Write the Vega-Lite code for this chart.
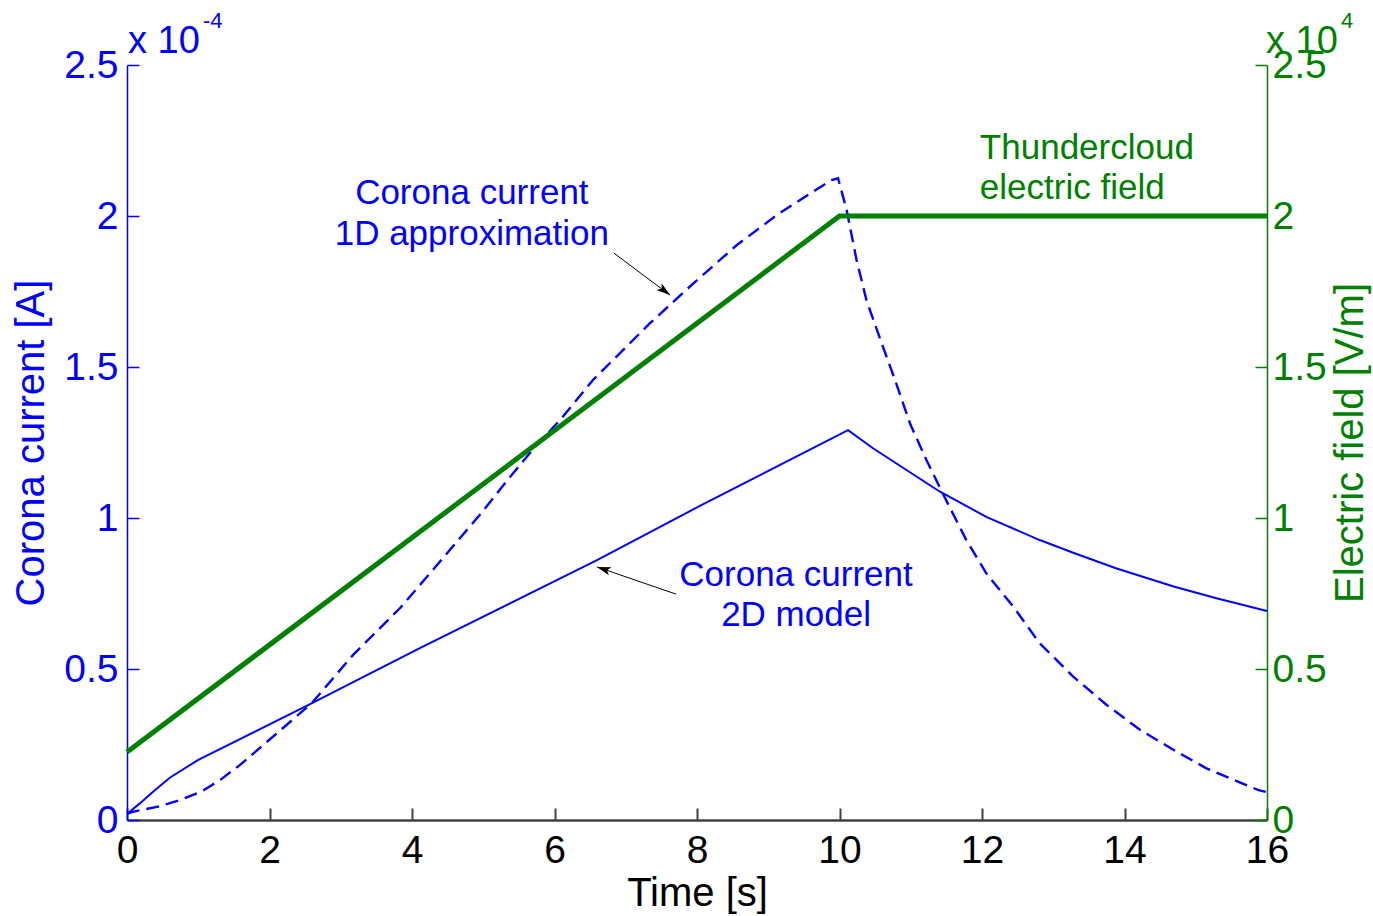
{
  "$schema": "https://vega.github.io/schema/vega-lite/v6.json",
  "width": 1140,
  "height": 755,
  "autosize": {"type": "none"},
  "padding": {"left": 127, "top": 65, "right": 106, "bottom": 96},
  "background": "white",
  "config": {
    "font": "Liberation Sans",
    "view": {"stroke": null},
    "axis": {"grid": false, "labelFlush": false, "labelOverlap": false, "titleFontWeight": "normal"}
  },
  "datasets": {
    "current2d": [
      {"t": 0, "I": 2.0e-6}, {"t": 0.18, "I": 5.5e-6}, {"t": 0.37, "I": 9.4e-6},
      {"t": 0.6, "I": 1.4e-5}, {"t": 1.0, "I": 1.99e-5}, {"t": 2.59, "I": 3.86e-5},
      {"t": 4.11, "I": 5.69e-5}, {"t": 6.59, "I": 8.6e-5}, {"t": 8.04, "I": 1.04e-4},
      {"t": 10.12, "I": 1.291e-4}, {"t": 10.47, "I": 1.231e-4}, {"t": 10.94, "I": 1.159e-4},
      {"t": 11.41, "I": 1.087e-4}, {"t": 12.06, "I": 1.004e-4}, {"t": 12.81, "I": 9.27e-5},
      {"t": 13.28, "I": 8.85e-5}, {"t": 13.89, "I": 8.33e-5}, {"t": 14.69, "I": 7.73e-5},
      {"t": 15.29, "I": 7.34e-5}, {"t": 16.0, "I": 6.92e-5}
    ],
    "current1d": [
      {"t": 0, "I": 2.0e-6}, {"t": 0.08, "I": 2.7e-6}, {"t": 0.45, "I": 4.5e-6},
      {"t": 0.74, "I": 6.6e-6}, {"t": 1.05, "I": 9.5e-6}, {"t": 1.31, "I": 1.33e-5},
      {"t": 1.6, "I": 1.85e-5}, {"t": 1.91, "I": 2.48e-5},
      {"t": 2.59, "I": 3.86e-5}, {"t": 3.17, "I": 5.46e-5}, {"t": 3.83, "I": 7.01e-5},
      {"t": 4.39, "I": 8.55e-5}, {"t": 4.95, "I": 1.01e-4}, {"t": 5.38, "I": 1.137e-4},
      {"t": 5.75, "I": 1.242e-4}, {"t": 6.08, "I": 1.325e-4}, {"t": 6.54, "I": 1.457e-4},
      {"t": 7.34, "I": 1.645e-4}, {"t": 7.95, "I": 1.777e-4}, {"t": 8.56, "I": 1.904e-4},
      {"t": 9.12, "I": 2.003e-4}, {"t": 9.59, "I": 2.075e-4}, {"t": 9.89, "I": 2.119e-4},
      {"t": 9.98, "I": 2.125e-4}, {"t": 10.1, "I": 2.02e-4}, {"t": 10.24, "I": 1.854e-4},
      {"t": 10.38, "I": 1.72e-4}, {"t": 10.62, "I": 1.56e-4}, {"t": 10.76, "I": 1.47e-4},
      {"t": 10.99, "I": 1.313e-4}, {"t": 11.22, "I": 1.192e-4}, {"t": 11.46, "I": 1.076e-4},
      {"t": 11.78, "I": 9.27e-5}, {"t": 12.06, "I": 8.17e-5}, {"t": 12.44, "I": 7.06e-5},
      {"t": 12.81, "I": 5.85e-5}, {"t": 13.28, "I": 4.75e-5}, {"t": 13.75, "I": 3.81e-5},
      {"t": 14.22, "I": 2.98e-5}, {"t": 14.69, "I": 2.32e-5}, {"t": 15.15, "I": 1.71e-5},
      {"t": 15.88, "I": 9.9e-6}, {"t": 16.0, "I": 9.2e-6}
    ],
    "field": [
      {"t": 0, "E": 2250}, {"t": 10, "E": 20000}, {"t": 16, "E": 20000}
    ],
    "currentNotes": [
      {"t": 4.84, "I": 2.076e-4, "label": "Corona current"},
      {"t": 4.84, "I": 1.94e-4, "label": "1D approximation"},
      {"t": 9.39, "I": 8.12e-5, "label": "Corona current"},
      {"t": 9.39, "I": 6.8e-5, "label": "2D model"}
    ],
    "fieldNotes": [
      {"t": 11.97, "E": 22250, "label": "Thundercloud"},
      {"t": 11.97, "E": 20920, "label": "electric field"}
    ],
    "arrows": [
      {"id": "1D", "t": 6.835, "I": 1.877e-4, "t2": 7.621, "I2": 1.738e-4},
      {"id": "2D", "t": 7.705, "I": 7.48e-5, "t2": 6.596, "I2": 8.38e-5}
    ],
    "leftExponent": [{"t": 0, "I": 2.5e-4, "base": "x 10", "power": "-4"}],
    "rightExponent": [{"t": 16, "E": 25000, "base": "x 10", "power": "4"}]
  },
  "layer": [
    {
      "layer": [
        {
          "data": {"name": "current2d"},
          "mark": {"type": "line", "color": "#0000ff", "strokeWidth": 2, "clip": false},
          "encoding": {
            "x": {
              "field": "t", "type": "quantitative",
              "scale": {"domain": [0, 16], "nice": false, "zero": false},
              "axis": {
                "orient": "bottom", "values": [0, 2, 4, 6, 8, 10, 12, 14, 16],
                "labelExpr": "format(datum.value, 'd')",
                "title": "Time [s]", "titleFontSize": 40, "titleColor": "#000000", "titlePadding": 3,
                "labelFontSize": 39, "labelColor": "#000000", "labelPadding": 23,
                "domainColor": "#404040", "domainWidth": 2.5, "tickColor": "#404040", "tickWidth": 2, "tickSize": -12
              }
            },
            "y": {
              "field": "I", "type": "quantitative",
              "scale": {"domain": [0, 0.00025], "nice": false, "zero": false},
              "axis": {
                "orient": "left", "values": [0, 0.00005, 0.0001, 0.00015, 0.0002, 0.00025],
                "labelExpr": "format(datum.value * 10000, '.1~f')",
                "title": "Corona current [A]", "titleFontSize": 40, "titleColor": "#0000ff", "titlePadding": 12,
                "titleAngle": 270, "titleBaseline": "bottom",
                "labelFontSize": 39, "labelColor": "#0000ff", "labelPadding": 21,
                "domainColor": "#0000ff", "domainWidth": 1.5, "tickColor": "#0000ff", "tickWidth": 1.5, "tickSize": -12
              }
            }
          }
        },
        {
          "data": {"name": "current1d"},
          "mark": {"type": "line", "color": "#0000ff", "strokeWidth": 2.4, "strokeDash": [13, 7], "clip": false},
          "encoding": {
            "x": {"field": "t", "type": "quantitative"},
            "y": {"field": "I", "type": "quantitative"}
          }
        },
        {
          "data": {"name": "arrows"},
          "mark": {"type": "rule", "color": "#000000", "strokeWidth": 1},
          "encoding": {
            "x": {"field": "t", "type": "quantitative"},
            "y": {"field": "I", "type": "quantitative"},
            "x2": {"field": "t2"},
            "y2": {"field": "I2"}
          }
        },
        {
          "data": {"name": "arrows"},
          "transform": [{"filter": "datum.id === '1D'"}],
          "mark": {"type": "point", "shape": "M0,0 L0.55,1.8 L0,1.35 L-0.55,1.8 Z", "filled": true, "color": "#000000", "opacity": 1, "size": 240, "angle": 128},
          "encoding": {
            "x": {"field": "t2", "type": "quantitative"},
            "y": {"field": "I2", "type": "quantitative"}
          }
        },
        {
          "data": {"name": "arrows"},
          "transform": [{"filter": "datum.id === '2D'"}],
          "mark": {"type": "point", "shape": "M0,0 L0.55,1.8 L0,1.35 L-0.55,1.8 Z", "filled": true, "color": "#000000", "opacity": 1, "size": 240, "angle": 288},
          "encoding": {
            "x": {"field": "t2", "type": "quantitative"},
            "y": {"field": "I2", "type": "quantitative"}
          }
        },
        {
          "data": {"name": "currentNotes"},
          "mark": {"type": "text", "color": "#0000ff", "fontSize": 35, "align": "center", "baseline": "middle"},
          "encoding": {
            "x": {"field": "t", "type": "quantitative"},
            "y": {"field": "I", "type": "quantitative"},
            "text": {"field": "label"}
          }
        },
        {
          "data": {"name": "leftExponent"},
          "mark": {"type": "text", "color": "#0000ff", "fontSize": 38, "align": "left", "baseline": "alphabetic", "dx": 1, "dy": -12},
          "encoding": {
            "x": {"field": "t", "type": "quantitative"},
            "y": {"field": "I", "type": "quantitative"},
            "text": {"field": "base"}
          }
        },
        {
          "data": {"name": "leftExponent"},
          "mark": {"type": "text", "color": "#0000ff", "fontSize": 22, "align": "left", "baseline": "alphabetic", "dx": 76, "dy": -37},
          "encoding": {
            "x": {"field": "t", "type": "quantitative"},
            "y": {"field": "I", "type": "quantitative"},
            "text": {"field": "power"}
          }
        }
      ]
    },
    {
      "layer": [
        {
          "data": {"name": "field"},
          "mark": {"type": "line", "color": "#008000", "strokeWidth": 5, "clip": false},
          "encoding": {
            "x": {"field": "t", "type": "quantitative"},
            "y": {
              "field": "E", "type": "quantitative",
              "scale": {"domain": [0, 25000], "nice": false, "zero": false},
              "axis": {
                "orient": "right", "values": [0, 5000, 10000, 15000, 20000, 25000],
                "labelExpr": "format(datum.value / 10000, '.1~f')",
                "title": "Electric field [V/m]", "titleFontSize": 40, "titleColor": "#008000", "titlePadding": 4,
                "titleAngle": 270, "titleBaseline": "top",
                "labelFontSize": 39, "labelColor": "#008000", "labelPadding": 17,
                "domainColor": "#008000", "domainWidth": 1.5, "tickColor": "#008000", "tickWidth": 1.5, "tickSize": -12
              }
            }
          }
        },
        {
          "data": {"name": "fieldNotes"},
          "mark": {"type": "text", "color": "#008000", "fontSize": 35, "align": "left", "baseline": "middle"},
          "encoding": {
            "x": {"field": "t", "type": "quantitative"},
            "y": {"field": "E", "type": "quantitative"},
            "text": {"field": "label"}
          }
        },
        {
          "data": {"name": "rightExponent"},
          "mark": {"type": "text", "color": "#008000", "fontSize": 38, "align": "left", "baseline": "alphabetic", "dx": -1, "dy": -12},
          "encoding": {
            "x": {"field": "t", "type": "quantitative"},
            "y": {"field": "E", "type": "quantitative"},
            "text": {"field": "base"}
          }
        },
        {
          "data": {"name": "rightExponent"},
          "mark": {"type": "text", "color": "#008000", "fontSize": 22, "align": "left", "baseline": "alphabetic", "dx": 74, "dy": -37},
          "encoding": {
            "x": {"field": "t", "type": "quantitative"},
            "y": {"field": "E", "type": "quantitative"},
            "text": {"field": "power"}
          }
        }
      ]
    }
  ],
  "resolve": {"scale": {"y": "independent"}}
}
